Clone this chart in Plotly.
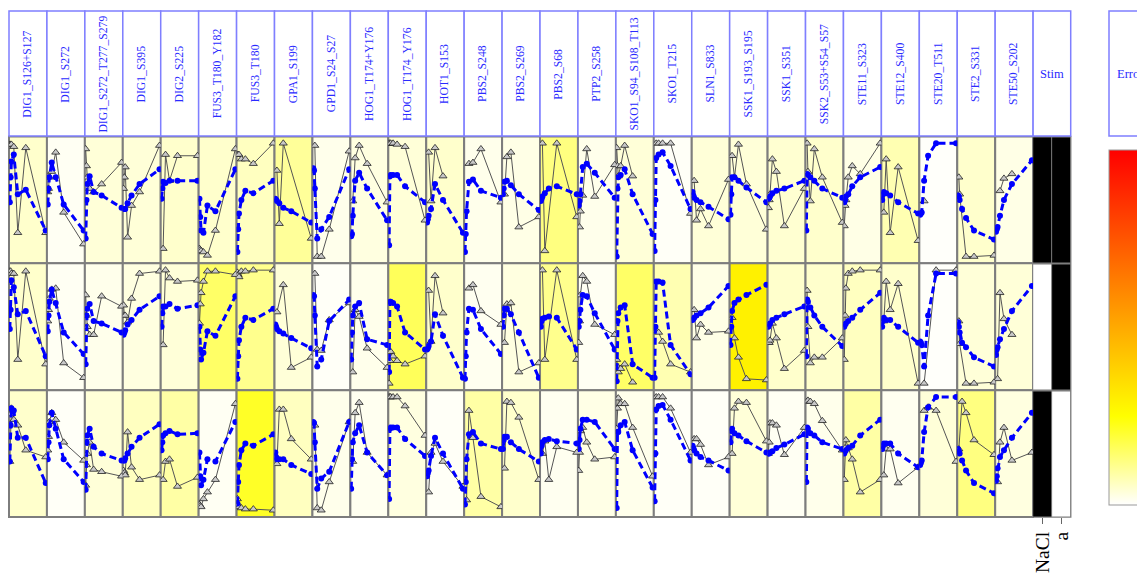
import plotly.graph_objects as go
from plotly.colors import sample_colorscale

# ---------------- data ----------------
TIMES = [0, 1, 2, 5, 10, 20, 45]

SITES = ["DIG1_S126+S127", "DIG1_S272", "DIG1_S272_T277_S279", "DIG1_S395", "DIG2_S225",
         "FUS3_T180_Y182", "FUS3_T180", "GPA1_S199", "GPD1_S24_S27", "HOG1_T174+Y176",
         "HOG1_T174_Y176", "HOT1_S153", "PBS2_S248", "PBS2_S269", "PBS2_S68", "PTP2_S258",
         "SKO1_S94_S108_T113", "SKO1_T215", "SLN1_S833", "SSK1_S193_S195", "SSK1_S351",
         "SSK2_S53+S54_S57", "STE11_S323", "STE12_S400", "STE20_T511", "STE2_S331", "STE50_S202"]

STIM_LABELS = ["NaCl", "a"]
STIM_NACL = [1, 0, 1]
STIM_A = [1, 1, 0]

N = None
MODEL_ROW1 = [
    [0.48, 0.70, 0.84, 0.90, 0.55, 0.59, 0.23],
    [0.46, 0.60, 0.70, 0.83, 0.70, 0.46, 0.23],
    [0.16, 0.50, 0.64, 0.71, 0.57, 0.54, 0.43],
    [0.42, 0.42, 0.42, 0.47, 0.54, 0.64, 0.77],
    [0.51, 0.60, 0.66, 0.65, 0.67, 0.67, 0.67],
    [0.51, 0.35, 0.23, 0.21, 0.45, 0.40, 0.77],
    [0.04, 0.24, 0.38, 0.50, 0.58, 0.56, 0.67],
    [0.51, 0.50, 0.49, 0.47, 0.43, 0.40, 0.30],
    [0.78, 0.76, 0.60, 0.16, 0.24, 0.35, 0.77],
    [0.18, 0.20, 0.36, 0.67, 0.74, 0.60, 0.32],
    [0.10, 0.71, 0.72, 0.72, 0.72, 0.62, 0.48],
    [0.30, 0.33, 0.36, 0.42, 0.64, 0.50, 0.21],
    [0.04, 0.20, 0.40, 0.66, 0.68, 0.58, 0.52],
    [0.55, 0.60, 0.66, 0.67, 0.63, 0.55, 0.41],
    [0.49, 0.51, 0.53, 0.56, 0.60, 0.62, 0.55],
    [0.45, 0.49, 0.55, 0.79, 0.82, 0.74, 0.52],
    [0.00, 0.60, 0.70, 0.72, 0.77, 0.55, 0.20],
    [0.05, 0.50, 0.87, 0.90, 0.92, 0.80, 0.42],
    [0.57, 0.54, 0.52, 0.50, 0.48, 0.44, 0.33],
    [0.37, 0.55, 0.70, 0.70, 0.67, 0.61, 0.48],
    [0.51, 0.52, 0.53, 0.56, 0.58, 0.60, 0.67],
    [0.23, 0.73, 0.72, 0.70, 0.67, 0.60, 0.52],
    [0.48, 0.50, 0.53, 0.55, 0.62, 0.70, 0.79],
    [0.50, 0.55, 0.57, 0.56, 0.54, 0.48, 0.38],
    [0.37, 0.38, 0.39, 0.67, 0.89, 1.00, 1.00],
    [0.54, 0.53, 0.50, 0.42, 0.34, 0.23, 0.15],
    [0.22, 0.24, 0.26, 0.36, 0.50, 0.64, 0.85],
]
DATA_ROW1 = [
    [0.99, 0.99, 0.99, 0.97, 0.21, 0.96, 0.21],
    [0.57, 0.60, 0.70, 0.75, 0.92, 0.39, 0.11],
    [0.95, 0.80, 0.70, 0.60, 0.57, 0.64, 0.83],
    [0.60, 0.70, 0.79, 0.17, 0.45, 0.57, 0.98],
    [N, N, 0.07, 0.90, 0.67, 0.89, 0.89],
    [0.07, 0.06, 0.05, 0.04, 0.01, 0.23, 0.95],
    [0.90, 0.90, 0.90, 0.86, 0.86, 0.82, 1.00],
    [N, N, 0.76, 0.29, 1.00, N, 0.16],
    [N, N, 0.98, 0.00, 0.00, 0.24, 0.93],
    [N, N, 0.49, 0.87, 0.98, 0.82, 0.48],
    [1.00, 1.00, 1.00, 1.00, 0.99, 0.97, 0.32],
    [N, N, 0.92, 0.49, 0.96, 0.71, N],
    [N, N, N, 0.82, 0.83, 0.95, 0.48],
    [N, N, 0.55, 0.88, 0.92, 0.26, 0.35],
    [N, N, 1.00, 0.05, N, 1.00, 0.35],
    [N, 0.26, 0.40, 0.54, 0.95, 0.53, 0.81],
    [0.96, 0.80, 0.71, 0.80, 0.98, 0.71, N],
    [N, N, 1.00, 1.00, 1.00, 1.00, 0.38],
    [N, N, 0.67, 0.32, 0.42, 0.27, 0.68],
    [N, N, 0.89, 0.70, 0.99, 0.64, 0.24],
    [0.43, 0.50, 0.55, 0.86, 0.75, 0.27, 0.60],
    [N, 1.00, 0.75, 0.49, 0.95, 0.70, 0.30],
    [0.27, 0.45, 0.50, 0.70, 0.80, 0.73, 1.00],
    [N, N, 0.39, 0.86, 0.21, 0.79, 0.14],
    [N, N, N, 0.49, N, N, N],
    [N, 0.70, 0.55, N, 0.00, 0.00, 0.01],
    [N, N, N, 0.58, 0.69, 0.73, N],
]
MODEL_ROW2 = [
    [0.48, 0.65, 0.91, 0.85, 0.61, 0.64, 0.24],
    [0.46, 0.60, 0.72, 0.83, 0.71, 0.45, 0.26],
    [0.17, 0.60, 0.66, 0.70, 0.55, 0.53, 0.45],
    [0.43, 0.45, 0.47, 0.52, 0.56, 0.65, 0.77],
    [0.50, 0.62, 0.68, 0.68, 0.70, 0.66, 0.69],
    [0.50, 0.30, 0.21, 0.27, 0.46, 0.42, 0.77],
    [0.04, 0.24, 0.38, 0.50, 0.58, 0.56, 0.66],
    [0.52, 0.50, 0.48, 0.46, 0.44, 0.40, 0.31],
    [0.78, 0.77, 0.60, 0.15, 0.21, 0.55, 0.74],
    [0.21, 0.45, 0.60, 0.68, 0.71, 0.39, 0.34],
    [0.10, 0.72, 0.72, 0.71, 0.68, 0.45, 0.30],
    [0.30, 0.31, 0.33, 0.37, 0.61, 0.42, 0.05],
    [0.04, 0.24, 0.45, 0.66, 0.65, 0.48, 0.26],
    [0.50, 0.60, 0.66, 0.66, 0.61, 0.45, 0.05],
    [0.50, 0.55, 0.57, 0.58, 0.59, 0.58, 0.30],
    [0.50, 0.55, 0.65, 0.78, 0.77, 0.62, 0.30],
    [0.02, 0.55, 0.62, 0.67, 0.69, 0.17, 0.05],
    [0.05, 0.50, 0.90, 0.90, 0.89, 0.34, 0.08],
    [0.56, 0.57, 0.58, 0.60, 0.62, 0.67, 0.86],
    [0.34, 0.50, 0.64, 0.71, 0.74, 0.78, 0.87],
    [0.50, 0.52, 0.53, 0.56, 0.58, 0.61, 0.68],
    [0.24, 0.74, 0.72, 0.67, 0.60, 0.50, 0.33],
    [0.50, 0.52, 0.53, 0.55, 0.58, 0.65, 0.80],
    [0.50, 0.55, 0.58, 0.56, 0.56, 0.50, 0.36],
    [0.37, 0.36, 0.34, 0.15, 0.60, 0.97, 0.97],
    [0.54, 0.50, 0.45, 0.36, 0.32, 0.23, 0.15],
    [0.25, 0.30, 0.32, 0.39, 0.48, 0.64, 0.86],
]
DATA_ROW2 = [
    [0.99, 0.99, 0.97, 0.97, 0.21, 0.99, 0.17],
    [0.55, 0.65, 0.75, 0.83, 0.84, 0.18, 0.05],
    [0.78, 0.60, 0.50, 0.43, 0.43, 0.77, 0.68],
    [0.69, 0.60, 0.60, 0.54, 0.75, 0.97, 0.99],
    [N, N, 0.34, 1.00, 0.93, 0.90, 0.91],
    [0.53, 0.70, 0.80, 0.90, 0.99, 0.99, 0.96],
    [0.98, 0.96, 0.94, 0.99, 0.99, 1.00, 1.00],
    [N, N, 0.63, N, 0.87, 0.14, 0.23],
    [N, N, 0.97, 0.30, 0.29, 0.56, 0.71],
    [N, N, 0.10, 0.65, 0.59, 0.31, 0.14],
    [0.00, 0.20, 0.28, 0.24, 0.20, 0.17, 0.24],
    [N, N, 0.82, 0.37, 0.95, 0.62, N],
    [N, N, N, 0.84, 0.87, 0.64, 0.52],
    [N, N, 0.36, 0.70, 0.71, 0.10, 0.18],
    [N, N, 1.00, 0.21, N, 1.00, 0.21],
    [0.36, 0.55, 0.78, 0.95, 0.90, 0.52, 0.43],
    [0.21, 0.15, 0.10, 0.13, 0.17, 0.01, N],
    [N, N, 0.47, 0.45, 0.37, 0.17, 0.10],
    [N, N, 0.65, 0.40, 0.52, 0.45, 0.46],
    [N, N, 0.58, 0.40, 0.23, 0.04, 0.03],
    [0.36, 0.36, 0.38, 0.53, 0.40, 0.13, 0.29],
    [N, 0.82, 0.50, 0.18, 0.23, 0.23, 0.40],
    [0.21, 0.60, 0.84, 0.97, 0.99, 1.00, 1.00],
    [N, N, 0.55, 0.90, 0.65, 0.88, 0.00],
    [N, N, N, 0.00, N, 1.00, 1.00],
    [N, 0.55, 0.35, N, 0.00, 0.00, 0.01],
    [N, N, 0.04, 0.80, 0.57, 0.43, N],
]
MODEL_ROW3 = [
    [0.43, 0.75, 0.90, 0.88, 0.64, 0.64, 0.24],
    [0.45, 0.60, 0.75, 0.86, 0.72, 0.45, 0.25],
    [0.18, 0.60, 0.66, 0.72, 0.56, 0.50, 0.44],
    [0.44, 0.44, 0.46, 0.50, 0.56, 0.64, 0.76],
    [0.53, 0.60, 0.66, 0.68, 0.70, 0.67, 0.68],
    [0.51, 0.30, 0.22, 0.27, 0.45, 0.43, 0.78],
    [0.06, 0.25, 0.40, 0.53, 0.59, 0.57, 0.67],
    [0.51, 0.47, 0.45, 0.45, 0.45, 0.40, 0.32],
    [0.78, 0.77, 0.60, 0.19, 0.28, 0.34, 0.78],
    [0.19, 0.45, 0.60, 0.68, 0.75, 0.51, 0.31],
    [0.10, 0.72, 0.73, 0.73, 0.73, 0.63, 0.48],
    [0.30, 0.33, 0.35, 0.48, 0.64, 0.50, 0.19],
    [0.05, 0.25, 0.45, 0.67, 0.69, 0.59, 0.54],
    [0.54, 0.62, 0.65, 0.65, 0.60, 0.54, 0.43],
    [0.50, 0.57, 0.60, 0.62, 0.63, 0.61, 0.59],
    [0.54, 0.62, 0.72, 0.80, 0.80, 0.78, 0.54],
    [0.02, 0.69, 0.69, 0.75, 0.78, 0.53, 0.20],
    [0.08, 0.50, 0.89, 0.92, 0.93, 0.80, 0.44],
    [0.57, 0.55, 0.53, 0.50, 0.47, 0.44, 0.35],
    [0.60, 0.70, 0.72, 0.68, 0.66, 0.61, 0.51],
    [0.50, 0.50, 0.51, 0.52, 0.55, 0.58, 0.67],
    [0.25, 0.73, 0.72, 0.68, 0.66, 0.60, 0.54],
    [0.50, 0.52, 0.53, 0.55, 0.57, 0.66, 0.80],
    [0.54, 0.57, 0.59, 0.59, 0.59, 0.50, 0.38],
    [0.40, 0.42, 0.44, 0.69, 0.91, 1.00, 1.00],
    [0.54, 0.52, 0.50, 0.44, 0.35, 0.24, 0.15],
    [0.26, 0.30, 0.37, 0.47, 0.53, 0.64, 0.86],
]
DATA_ROW3 = [
    [0.43, 0.85, 0.90, 0.80, 0.75, 0.53, 0.47],
    [0.53, 0.65, 0.78, 0.86, 0.80, 0.60, 0.44],
    [0.22, 0.40, 0.50, 0.60, 0.36, 0.34, 0.30],
    [0.35, 0.33, 0.31, 0.69, 0.38, 0.27, 0.31],
    [N, N, 0.27, 0.43, 0.45, 0.21, 0.29],
    [0.05, 0.04, 0.03, 0.10, 0.16, 0.27, 0.94],
    [0.10, 0.05, 0.03, 0.02, 0.01, 0.01, 0.00],
    [N, N, 0.41, 0.89, 0.89, 0.63, 0.45],
    [N, N, 0.75, 0.02, 0.00, 0.25, 0.78],
    [N, N, 0.43, 0.86, 0.95, 0.51, 0.31],
    [1.00, 1.00, 1.00, 1.00, 1.00, 0.92, 0.66],
    [N, N, 0.16, 0.51, 0.59, 0.43, 0.21],
    [N, N, 0.09, 0.88, 0.64, 0.12, 0.03],
    [N, N, 0.37, 0.96, 0.95, 0.82, 0.27],
    [N, N, 0.50, 0.61, 0.27, 0.56, 0.51],
    [0.35, 0.51, 0.70, 0.73, 0.60, 0.45, 0.47],
    [0.72, 0.90, 0.99, 0.94, 0.94, 0.73, 0.30],
    [N, N, 1.00, 1.00, 1.00, 0.90, 0.51],
    [N, N, 0.63, 0.63, 0.58, 0.40, 0.47],
    [N, N, 0.50, 0.90, 0.96, 0.95, 0.61],
    [0.50, 0.60, 0.77, 0.77, 0.75, 0.49, 0.73],
    [N, 0.96, 0.97, 0.96, 0.94, 0.79, 0.53],
    [0.27, 0.55, 0.62, 0.55, 0.45, 0.16, 0.27],
    [N, N, 0.31, 0.54, 0.54, 0.24, 0.38],
    [N, N, N, 0.88, 0.91, 0.88, 0.43],
    [N, 0.54, N, 0.96, 0.86, 0.62, 0.49],
    [N, N, 0.25, 0.60, 0.73, 0.44, 0.51],
]
ERROR_ROW1 = [0.05, 0.012, 0.038, 0.038, 0.05, 0.05, 0.062, 0.1, 0.02, 0.03, 0.038, 0.05, 0.02, 0.025,
              0.125, 0.02, 0.038, 0.008, 0.038, 0.038, 0.045, 0.05, 0.025, 0.075, 0.005, 0.05, 0.025]
ERROR_ROW2 = [0.05, 0.012, 0.02, 0.03, 0.038, 0.15, 0.112, 0.038, 0.008, 0.02, 0.162, 0.05, 0.015, 0.03,
              0.112, 0.012, 0.15, 0.075, 0.025, 0.29, 0.05, 0.05, 0.062, 0.05, 0.005, 0.038, 0.038]
ERROR_ROW3 = [0.05, 0.008, 0.038, 0.062, 0.088, 0.012, 0.212, 0.062, 0.02, 0.015, 0.03, 0.008, 0.088, 0.05,
              0.015, 0.025, 0.02, 0.008, 0.008, 0.038, 0.012, 0.02, 0.088, 0.015, 0.038, 0.125, 0.03]

MODEL_ROWS = [MODEL_ROW1, MODEL_ROW2, MODEL_ROW3]
DATA_ROWS = [DATA_ROW1, DATA_ROW2, DATA_ROW3]
ERROR_ROWS = [ERROR_ROW1, ERROR_ROW2, ERROR_ROW3]

# ---------------- layout constants ----------------
W, H = 1137, 574
GRID_LEFT, COL_W = 9.0, 37.93
GRID_TOP, ROW_H = 136.5, 126.85
HEAD_TOP = 11.0
ERR_SCALE = [[0.0, "#FFFFFF"], [0.25, "#FFFF00"], [1.0, "#FF0000"]]
SERIF = "Liberation Serif, Times New Roman, serif"
HEAD_BLUE = "#2a2aff"
BOX_BLUE = "#7f7fff"
GRID_GREY = "#7d7d7d"
HEAD_FONT = 11.7


def fx(px):
    return px / W


def fy(py):
    return 1 - py / H


def sfx(k):
    return "" if k == 1 else str(k)


fig = go.Figure()
layout_axes = {}
shapes = []
annotations = []
ncol = len(SITES)
col_edges = [round(GRID_LEFT + c * COL_W, 3) for c in range(ncol + 1)]
row_edges = [round(GRID_TOP + r * ROW_H, 3) for r in range(4)]

for r in range(3):
    for c in range(ncol):
        k = r * ncol + c + 1
        s = sfx(k)
        layout_axes[f"xaxis{s}"] = dict(domain=[fx(col_edges[c]), fx(col_edges[c + 1])], range=[-1, 46.5],
                                        visible=False, anchor=f"y{s}", fixedrange=True)
        layout_axes[f"yaxis{s}"] = dict(domain=[fy(row_edges[r + 1]), fy(row_edges[r])], range=[-0.06, 1.06],
                                        visible=False, anchor=f"x{s}", fixedrange=True)
        bg = sample_colorscale(ERR_SCALE, [ERROR_ROWS[r][c]])[0]
        shapes.append(dict(type="rect", xref=f"x{s} domain", yref=f"y{s} domain",
                           x0=0, x1=1, y0=0, y1=1, fillcolor=bg,
                           line=dict(color=GRID_GREY, width=2), layer="below"))
        fig.add_trace(go.Scatter(
            x=TIMES, y=DATA_ROWS[r][c], mode="lines+markers", connectgaps=True,
            line=dict(color="#555555", width=1),
            marker=dict(symbol="triangle-up", size=7, color="#c8c8c8",
                        line=dict(color="#222222", width=0.8)),
            xaxis=f"x{s}", yaxis=f"y{s}", showlegend=False, hoverinfo="skip"))
        fig.add_trace(go.Scatter(
            x=TIMES, y=MODEL_ROWS[r][c], mode="lines+markers",
            line=dict(color="#0000ff", width=3, dash="7px,4px"),
            marker=dict(size=6, color="#0000ff"),
            xaxis=f"x{s}", yaxis=f"y{s}", showlegend=False, hoverinfo="skip"))

# header boxes for sites
for c in range(ncol):
    s = sfx(c + 1)
    shapes.append(dict(type="rect", xref=f"x{s} domain", yref="paper", x0=0, x1=1,
                       y0=fy(GRID_TOP - 0.5), y1=fy(HEAD_TOP), fillcolor="white",
                       line=dict(color=BOX_BLUE, width=1.5)))
    annotations.append(dict(xref=f"x{s} domain", yref="paper", x=0.5, y=fy((HEAD_TOP + GRID_TOP) / 2),
                            text=SITES[c], textangle=-90, showarrow=False,
                            xanchor="center", yanchor="middle",
                            font=dict(family=SERIF, size=HEAD_FONT, color=HEAD_BLUE)))

# stim column
ks = sfx(3 * ncol + 1)
sx0 = col_edges[-1]
sx1 = sx0 + 37.6
layout_axes[f"xaxis{ks}"] = dict(domain=[fx(sx0), fx(sx1)], range=[-0.5, 1.5], anchor=f"y{ks}",
                                 tickmode="array", tickvals=[0, 1], ticktext=STIM_LABELS,
                                 tickangle=-90, ticks="outside", ticklen=6, tickcolor="#666666",
                                 tickfont=dict(family=SERIF, size=19.5, color="black"),
                                 showgrid=False, zeroline=False, showline=False, fixedrange=True)
layout_axes[f"yaxis{ks}"] = dict(domain=[fy(row_edges[3]), fy(row_edges[0])], range=[2.5, -0.5],
                                 visible=False, anchor=f"x{ks}", fixedrange=True)
shapes.append(dict(type="rect", xref=f"x{ks} domain", yref=f"y{ks} domain", x0=0, x1=1, y0=0, y1=1,
                   fillcolor=GRID_GREY, line=dict(color=GRID_GREY, width=1.5), layer="below"))
fig.add_trace(go.Heatmap(z=[[STIM_NACL[r], STIM_A[r]] for r in range(3)], x=[0, 1], y=[0, 1, 2],
                         colorscale=[[0, "white"], [1, "black"]], zmin=0, zmax=1, showscale=False,
                         xgap=1, ygap=2, xaxis=f"x{ks}", yaxis=f"y{ks}", hoverinfo="skip"))
shapes.append(dict(type="rect", xref=f"x{ks} domain", yref="paper", x0=0, x1=1,
                   y0=fy(GRID_TOP - 0.5), y1=fy(HEAD_TOP), fillcolor="white",
                   line=dict(color=BOX_BLUE, width=1.5)))
annotations.append(dict(xref=f"x{ks} domain", yref="paper", x=0.5, y=fy((HEAD_TOP + GRID_TOP) / 2),
                        text="Stim", showarrow=False, xanchor="center", yanchor="middle",
                        font=dict(family=SERIF, size=HEAD_FONT + 0.8, color=HEAD_BLUE)))

# error legend header + colour bar
shapes.append(dict(type="rect", xref="paper", yref="paper", x0=fx(1109), x1=fx(1175),
                   y0=fy(GRID_TOP - 0.5), y1=fy(HEAD_TOP), fillcolor="white",
                   line=dict(color=BOX_BLUE, width=1.5)))
annotations.append(dict(xref="paper", yref="paper", x=fx(1115), y=fy((HEAD_TOP + GRID_TOP) / 2),
                        text="Error", showarrow=False, xanchor="left", yanchor="middle",
                        font=dict(family=SERIF, size=HEAD_FONT + 0.8, color=HEAD_BLUE)))
fig.add_trace(go.Scatter(
    x=[TIMES[0]], y=[-50], mode="markers", xaxis="x", yaxis="y", showlegend=False, hoverinfo="skip",
    marker=dict(size=1, color=[0], cmin=0, cmax=1, colorscale=ERR_SCALE, showscale=True,
                colorbar=dict(x=fx(1109), xanchor="left", y=fy(327.5), yanchor="middle",
                              len=355 / H, lenmode="fraction", thickness=60, thicknessmode="pixels",
                              outlinewidth=1, outlinecolor="#999999", xpad=0, ypad=0,
                              ticks="", showticklabels=False))))

fig.update_layout(width=W, height=H, margin=dict(l=0, r=0, t=0, b=0, autoexpand=False),
                  paper_bgcolor="white", plot_bgcolor="rgba(0,0,0,0)", showlegend=False,
                  shapes=shapes, annotations=annotations, **layout_axes)

fig.write_html("out.html", config={"displayModeBar": False},
               post_script="document.body.style.margin='0px';document.body.style.padding='0px';")
